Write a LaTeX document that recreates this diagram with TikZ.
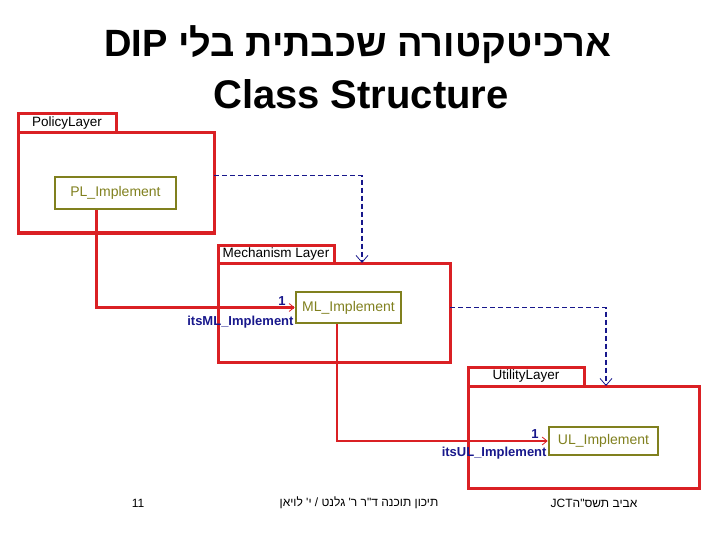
\documentclass[tikz,border=0pt]{standalone}
\usepackage{fontspec}
\setmainfont{Liberation Sans}
\newfontfamily\hebfont[Script=Hebrew]{Liberation Sans}
\TeXXeTstate=1
\usetikzlibrary{arrows.meta}

\definecolor{layerred}{RGB}{218,32,36}
\definecolor{classolive}{RGB}{128,128,30}
\definecolor{depnavy}{RGB}{24,24,140}

\tikzset{
  layer/.style={draw=layerred, line width=3pt, inner sep=0pt, outer sep=0pt},
  layertab/.style={layer, anchor=south west, font=\fontsize{13.5}{13.5}\selectfont},
  klass/.style={draw=classolive, line width=2.6pt, text=classolive, inner sep=0pt,
    font=\fontsize{14}{14}\selectfont},
  assoc/.style={draw=layerred, line width=2.6pt,
    -{Straight Barb[length=5pt,width=8pt,line width=0.8pt]}},
  dep/.style={draw=depnavy, line width=1.1pt, dash pattern=on 5pt off 3pt,
    -{Straight Barb[length=7pt,width=12pt,line width=0.8pt]}},
  role/.style={text=depnavy, inner sep=1pt, font=\bfseries\fontsize{13}{13}\selectfont},
  footer/.style={font=\fontsize{12}{12}\selectfont}
}

\begin{document}
\begin{tikzpicture}[x=1pt,y=-1pt]
\useasboundingbox (0,0) rectangle (720,540);

% Title
\node[font=\hebfont\bfseries\fontsize{38}{38}\selectfont] (title) at (358,45)
  {\beginR ארכיטקטורה שכבתית בלי \beginL DIP\endL\endR};
\node[font=\bfseries\fontsize{40}{40}\selectfont] (subtitle) at (361,94) {Class Structure};

% Layers
\node[layer, minimum width=196pt, minimum height=100pt] (policy) at (116,183) {};
\node[layertab, minimum width=98pt, minimum height=19pt] (policytab) at (policy.north west) {PolicyLayer};
\node[layer, minimum width=232pt, minimum height=99pt] (mechanism) at (334,312.5) {};
\node[layertab, minimum width=116pt, minimum height=18pt] (mechanismtab) at (mechanism.north west) {Mechanism Layer};
\node[layer, minimum width=231pt, minimum height=102pt] (utility) at (583.5,437) {};
\node[layertab, minimum width=116pt, minimum height=19pt] (utilitytab) at (utility.north west) {UtilityLayer};

% Classes
\node[klass, minimum width=121pt, minimum height=32pt] (pl) at (115.5,193) {PL\_Implement};
\node[klass, minimum width=105pt, minimum height=31pt] (ml) at (348.5,307.5) {ML\_Implement};
\node[klass, minimum width=109pt, minimum height=28pt] (ul) at (603.5,441) {UL\_Implement};

% Dependencies
\draw[dep] (policy.east |- pl.north) -| ([xshift=28pt]mechanism.north);
\draw[dep] (mechanism.east |- ml.center) -| ([xshift=22.5pt]utility.north);

% Associations
\draw[assoc] ([xshift=-19pt]pl.south) |- (ml.west);
\draw[assoc] ([xshift=-11.5pt]ml.south) |- (ul.west);
\node[role, anchor=south east] (mlone) at ([xshift=-8pt,yshift=1pt]ml.west) {1};
\node[role, anchor=north east] (mlrole) at ([yshift=-7pt]ml.west) {itsML\_Implement};
\node[role, anchor=south east] (ulone) at ([xshift=-8pt,yshift=1pt]ul.west) {1};
\node[role, anchor=north east] (ulrole) at ([yshift=-5pt]ul.west) {itsUL\_Implement};

% Footer
\node[footer] (pagenum) at (138,503) {11};
\node[footer] (course) at (359,503) {\hebfont\beginR תיכון תוכנה ד"ר ר' גלנט / י' לויאן\endR};
\node[footer] (college) at (594,503) {\hebfont JCT\beginR אביב תשס"ה\endR};
\end{tikzpicture}
\end{document}
